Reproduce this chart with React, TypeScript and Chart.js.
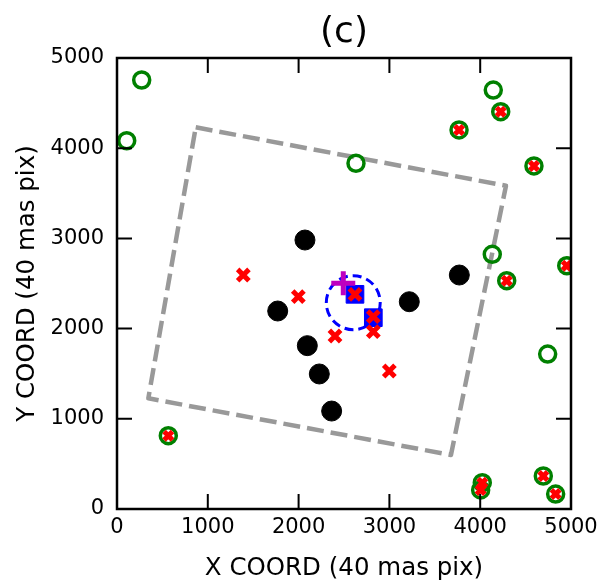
import React, { useEffect, useRef } from "react";
import { Chart, registerables } from "chart.js";

Chart.register(...registerables);

const FONT = "'DejaVu Sans', 'Liberation Sans', sans-serif";

const titleText = "(c)";
const xTitle = "X COORD (40 mas pix)";
const yTitle = "Y COORD (40 mas pix)";
const xTickValues = [0, 1000, 2000, 3000, 4000, 5000];
const yTickValues = [0, 1000, 2000, 3000, 4000, 5000];

// black filled stars
const blackX = [2070, 1770, 2096, 2228, 2364, 3219, 3770];
const blackY = [2982, 2195, 1811, 1497, 1086, 2298, 2594];

// green open circles
const greenX = [272, 107, 2632, 4144, 4226, 3767, 4592, 4133, 4292, 4953, 4743, 565, 4023, 4005, 4695, 4831];
const greenY = [4756, 4083, 3833, 4645, 4405, 4202, 3803, 2824, 2531, 2697, 1718, 813, 292, 211, 366, 166];

// red crosses inside green circles
const redInX = [4226, 3767, 4592, 4292, 4953, 565, 4023, 4005, 4695, 4831];
const redInY = [4405, 4202, 3803, 2531, 2697, 813, 292, 211, 366, 166];

// free red crosses
const redX = [1391, 1997, 2401, 2621, 2823, 2823, 2999];
const redY = [2594, 2354, 1918, 2380, 2132, 1966, 1530];

// blue squares
const blueSqX = [2621, 2823];
const blueSqY = [2380, 2121];

// magenta plus
const plusX = [2492];
const plusY = [2502];

// dashed blue circle (centre and radius, data units)
const circleX = 2602;
const circleY = 2287;
const circleR = 297;

// gray dashed footprint
const polyX = [867, 4284, 3678, 345, 867];
const polyY = [4232, 3584, 599, 1227, 4232];

const pts = (xs: number[], ys: number[]) => xs.map((x, i) => ({ x, y: ys[i] }));

const decorPlugin = {
  id: "decor",
  beforeDatasetsDraw(chart: any) {
    const { ctx, scales } = chart;
    const xs = scales.x, ys = scales.y;
    const cx = xs.getPixelForValue(circleX);
    const cy = ys.getPixelForValue(circleY);
    const r = Math.abs(xs.getPixelForValue(circleX + circleR) - cx);
    ctx.save();
    ctx.strokeStyle = "#0000ff";
    ctx.lineWidth = 3;
    ctx.setLineDash([9, 5]);
    ctx.beginPath();
    ctx.arc(cx, cy, r, 0, Math.PI * 2);
    ctx.stroke();
    ctx.restore();
  },
  afterDraw(chart: any) {
    const { ctx, chartArea: a, scales } = chart;
    const xs = scales.x, ys = scales.y;
    ctx.save();
    ctx.strokeStyle = "#000";
    // ticks inward
    ctx.lineWidth = 2;
    const tl = 15;
    ctx.beginPath();
    xTickValues.forEach((v) => {
      const px = xs.getPixelForValue(v);
      ctx.moveTo(px, a.bottom);
      ctx.lineTo(px, a.bottom - tl);
      ctx.moveTo(px, a.top);
      ctx.lineTo(px, a.top + tl);
    });
    yTickValues.forEach((v) => {
      const py = ys.getPixelForValue(v);
      ctx.moveTo(a.left, py);
      ctx.lineTo(a.left + tl, py);
      ctx.moveTo(a.right, py);
      ctx.lineTo(a.right - tl, py);
    });
    ctx.stroke();
    // frame
    ctx.lineWidth = 2.5;
    ctx.strokeRect(a.left, a.top, a.right - a.left, a.bottom - a.top);
    // texts
    ctx.fillStyle = "#000";
    ctx.textAlign = "center";
    ctx.textBaseline = "alphabetic";
    const mid = (a.left + a.right) / 2;
    ctx.font = `36px ${FONT}`;
    ctx.fillText(titleText, mid, 42);
    ctx.font = `24.5px ${FONT}`;
    ctx.fillText(xTitle, mid, 575);
    ctx.translate(34, (a.top + a.bottom) / 2);
    ctx.rotate(-Math.PI / 2);
    ctx.fillText(yTitle, 0, 0);
    ctx.restore();
  },
};

export default function App() {
  const ref = useRef<HTMLCanvasElement | null>(null);
  useEffect(() => {
    if (!ref.current) return;
    const chart = new Chart(ref.current, {
      type: "scatter",
      data: {
        datasets: [
          {
            label: "plus",
            data: pts(plusX, plusY),
            pointStyle: "cross",
            pointRadius: 12,
            borderWidth: 5,
            borderColor: "#bf00bf",
            backgroundColor: "#bf00bf",
            order: 0,
            clip: 0,
          } as any,
          {
            label: "red",
            data: pts(redX, redY),
            pointStyle: "crossRot",
            pointRadius: 8,
            borderWidth: 5,
            borderColor: "#ff0000",
            backgroundColor: "#ff0000",
            order: 1,
            clip: 0,
          },
          {
            label: "redIn",
            data: pts(redInX, redInY),
            pointStyle: "crossRot",
            pointRadius: 6,
            borderWidth: 5,
            borderColor: "#ff0000",
            backgroundColor: "#ff0000",
            order: 2,
            clip: 0,
          },
          {
            label: "blueSq",
            data: pts(blueSqX, blueSqY),
            pointStyle: "rect",
            pointRadius: 12.5,
            borderWidth: 1,
            borderColor: "#0000ff",
            backgroundColor: "#0000ff",
            order: 3,
            clip: 0,
          },
          {
            label: "green",
            data: pts(greenX, greenY),
            pointStyle: "circle",
            pointRadius: 8,
            borderWidth: 3.5,
            borderColor: "#008000",
            backgroundColor: "rgba(0,0,0,0)",
            order: 4,
            clip: 0,
          },
          {
            label: "black",
            data: pts(blackX, blackY),
            pointStyle: "circle",
            pointRadius: 10,
            borderWidth: 1,
            borderColor: "#000",
            backgroundColor: "#000",
            order: 5,
            clip: 0,
          },
          {
            type: "line",
            label: "footprint",
            data: pts(polyX, polyY),
            showLine: true,
            pointRadius: 0,
            borderColor: "#999999",
            borderWidth: 4.5,
            borderDash: [17, 7],
            borderJoinStyle: "round",
            fill: false,
            tension: 0,
            order: 6,
            clip: 0,
          } as any,
        ],
      },
      options: {
        animation: false,
        responsive: true,
        maintainAspectRatio: false,
        events: [],
        layout: { padding: { top: 58, right: 29, left: 0, bottom: 0 } },
        plugins: {
          legend: { display: false },
          tooltip: { enabled: false },
          title: { display: false },
        },
        scales: {
          x: {
            type: "linear",
            min: 0,
            max: 5000,
            grid: { display: false, drawTicks: false },
            border: { display: false },
            ticks: {
              stepSize: 1000,
              padding: 6,
              color: "#000",
              maxRotation: 0,
              font: { family: FONT, size: 21 },
              callback: (v: any) => String(v),
            },
            afterFit: (s: any) => {
              s.height = 73;
              s.paddingLeft = 0;
              s.paddingRight = 0;
            },
          },
          y: {
            type: "linear",
            min: 0,
            max: 5000,
            grid: { display: false, drawTicks: false },
            border: { display: false },
            ticks: {
              stepSize: 1000,
              padding: 13,
              color: "#000",
              font: { family: FONT, size: 21 },
              callback: (v: any) => String(v),
            },
            afterFit: (s: any) => {
              s.width = 117;
              s.paddingTop = 0;
              s.paddingBottom = 0;
            },
          },
        },
      },
      plugins: [decorPlugin],
    });
    return () => chart.destroy();
  }, []);
  return (
    <div style={{ position: "fixed", left: 0, top: 0, width: 600, height: 582, background: "#fff" }}>
      <canvas ref={ref} />
    </div>
  );
}
